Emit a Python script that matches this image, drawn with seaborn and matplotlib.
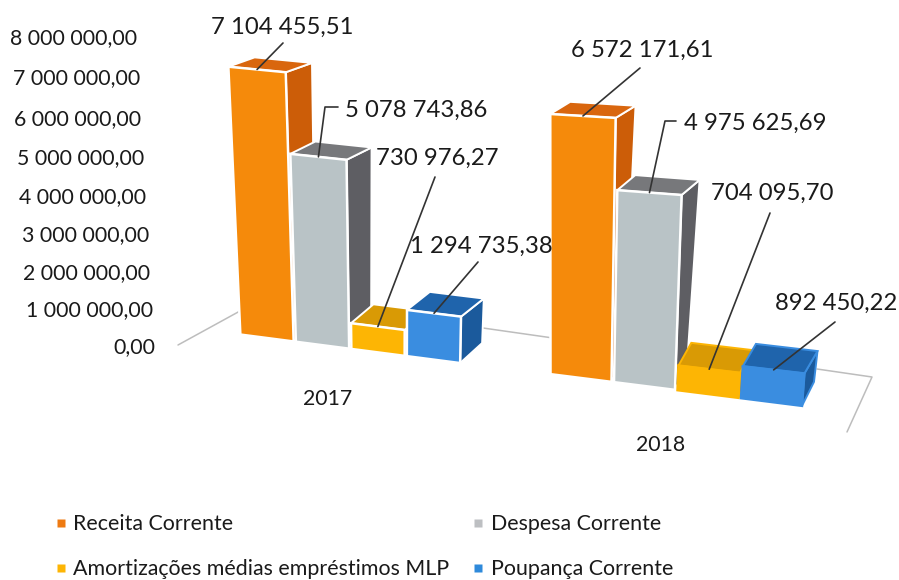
import numpy as np
import pandas as pd
import seaborn as sns
import matplotlib
matplotlib.use("Agg")
import matplotlib.pyplot as plt
from matplotlib.transforms import Transform, Affine2D, IdentityTransform
from matplotlib.patches import Polygon
from matplotlib.lines import Line2D

W, H = 899, 580

indicadores = ["Receita Corrente", "Despesa Corrente",
               "Amortizações médias empréstimos MLP", "Poupança Corrente"]
valores_2017 = [7104455.51, 5078743.86, 730976.27, 1294735.38]
valores_2018 = [6572171.61, 4975625.69, 704095.70, 892450.22]
rotulos_2017 = ["7 104 455,51", "5 078 743,86", "730 976,27", "1 294 735,38"]
rotulos_2018 = ["6 572 171,61", "4 975 625,69", "704 095,70", "892 450,22"]
ticks_valor = [0, 1e6, 2e6, 3e6, 4e6, 5e6, 6e6, 7e6, 8e6]
ticks_texto = ["0,00", "1 000 000,00", "2 000 000,00", "3 000 000,00", "4 000 000,00",
               "5 000 000,00", "6 000 000,00", "7 000 000,00", "8 000 000,00"]

cor_frente = ["#F58A0B", "#B9C3C6", "#FDB504", "#3A8DE0"]
cor_topo = ["#D9660E", "#77787B", "#D99A05", "#1F64AC"]
cor_lado = ["#CC5D08", "#5E5E63", "#C98A04", "#1B5A9C"]

sns.set_theme(style="white")
plt.rcParams["font.family"] = ["Lato", "DejaVu Sans"]
TXT = "#1a1a1a"


class Warp(Transform):
    """Perspective of a year's front plane: (category, value) -> display pixels."""
    input_dims = output_dims = 2
    is_separable = False
    has_inverse = False

    def __init__(self, x0, xs, a2, a3, y0, ys, k0, k1, k2):
        super().__init__()
        self.p = (x0, xs, a2, a3, y0, ys, k0, k1, k2)

    def transform_non_affine(self, pts):
        x0, xs, a2, a3, y0, ys, k0, k1, k2 = self.p
        pts = np.asarray(pts, float)
        x, v = pts[:, 0], pts[:, 1] / 1e6
        return np.column_stack((x0 + xs * x + (a2 + a3 * x) * v,
                                H - (y0 + ys * x - (k0 + k1 * x + k2 * v) * v)))


def px_axes(fig, l, t, r, b):
    return fig.add_axes([l / W, 1 - b / H, (r - l) / W, (b - t) / H])


def desenhar(ax, ano, valores, warp, prof, edge):
    df = pd.DataFrame({"Indicador": indicadores, "Valor": valores})
    sns.barplot(data=df, x="Indicador", y="Valor", hue="Indicador", hue_order=indicadores,
                order=indicadores, palette=cor_frente, width=0.96, saturation=1,
                legend=False, ax=ax)
    bars = sorted(ax.patches, key=lambda p: p.get_x())
    for i, b in enumerate(bars):
        xl, xr, v = b.get_x(), b.get_x() + b.get_width(), b.get_height()
        dv = prof(v / 1e6)
        d0 = prof(0.0)
        fl, fr = warp.transform_non_affine(np.array([[xl, v], [xr, v]]))
        br = warp.transform_non_affine(np.array([[xr, 0.0]]))[0]
        lado = [br, fr, fr + dv, br + d0]
        topo = [fl, fr, fr + dv, fl + dv]
        ec = edge[i]
        ax.add_artist(Polygon(lado, closed=True, fc=cor_lado[i], ec=ec, lw=1.4,
                              transform=IdentityTransform(), zorder=3 + i, clip_on=False))
        ax.add_artist(Polygon(topo, closed=True, fc=cor_topo[i], ec=ec, lw=1.4,
                              transform=IdentityTransform(), zorder=3 + i, clip_on=False))
        b.set_transform(warp)
        b.set_clip_on(False)
        b.set_edgecolor(ec)
        b.set_linewidth(1.8)
        b.set_zorder(3.5 + i)
    ax.set_xlim(-0.5, 3.5)
    ax.set_ylim(0, 8e6)
    ax.set_facecolor("none")
    ax.set_xlabel("")
    ax.set_ylabel("")
    ax.set_xticks([1.5], [ano], fontsize=15.3, color=TXT)
    ax.tick_params(axis="x", length=0, pad=0)
    sns.despine(ax=ax, left=True, bottom=True)
    return bars


def etiqueta(fig, ax, warp, bar, texto, tx, ty, via):
    x = bar.get_x() + bar.get_width() / 2
    fim = warp.transform_non_affine(np.array([[x, bar.get_height()]]))[0]
    xs = [p[0] for p in via] + [fim[0]]
    ys = [H - p[1] for p in via] + [fim[1]]
    ax.add_artist(Line2D(xs, ys, color="#333333", lw=1.2, transform=IdentityTransform(),
                         zorder=20, clip_on=False))
    fig.text(tx / W, 1 - ty / H, texto, fontsize=17.2, color=TXT, ha="center", va="center", zorder=30)


fig = plt.figure(figsize=(W / 100, H / 100), dpi=100, facecolor="white")

# floor lines of the 3D box
for seg in ([(178, 345), (240, 311)], [(483, 328), (560, 339)], [(817, 369), (872, 377), (847, 432)]):
    fig.add_artist(Line2D([p[0] / W for p in seg], [1 - p[1] / H for p in seg],
                          color="#BDBDBD", lw=1.1, zorder=0))

ax1 = px_axes(fig, 155, 37, 509, 346)
ax2 = px_axes(fig, 562, 100, 762, 432)

w17 = Warp(267, 55.5, -1.4, 0.6, 338, 7.2, 34.6, 0.2, 0.45)
w18 = Warp(581, 63.5, 0.3, 0.7, 378, 8.0, 33.3, 0.6, 1.0)
prof17 = lambda v: np.array([22 + 0.6 * v, 20 - 1.5 * v])
prof18 = lambda v: np.array([12 + 1.2 * v, 24 - 1.8 * v])

b17 = desenhar(ax1, "2017", valores_2017, w17, prof17, ["white"] * 4)
b18 = desenhar(ax2, "2018", valores_2018, w18, prof18, ["white", "white", cor_frente[2], cor_frente[3]])

# value axis, with the slant and the perspective squeeze of the reference
ax1.set_yticks(ticks_valor, ticks_texto, fontsize=15.3, color=TXT)
ax1.tick_params(axis="y", length=0, pad=0, left=False)
ax2.set_yticks([])
fim_px = [155, 153, 150, 149, 146.5, 144, 141.5, 140, 137]
alvo_py = [345, 308, 271, 233, 195, 156, 117, 76, 36]
for lab, v, fx, fy in zip(ax1.get_yticklabels(), ticks_valor, fim_px, alvo_py):
    linear = 346 - (346 - 37) * v / 8e6
    lab.set_transform(lab.get_transform() + Affine2D().translate(fx - 155, linear - fy))

ax1.get_xticklabels()[0].set_transform(ax1.get_xticklabels()[0].get_transform()
                                       + Affine2D().translate(-4, -(398 - 346 - 9)))
ax2.get_xticklabels()[0].set_transform(ax2.get_xticklabels()[0].get_transform()
                                       + Affine2D().translate(-1, -3))

etiqueta(fig, ax1, w17, b17[0], rotulos_2017[0], 282, 27, [(283, 43)])
etiqueta(fig, ax1, w17, b17[1], rotulos_2017[1], 416, 110, [(338, 107), (325, 107)])
etiqueta(fig, ax1, w17, b17[2], rotulos_2017[2], 437, 158, [(435, 177)])
etiqueta(fig, ax1, w17, b17[3], rotulos_2017[3], 481, 246, [(478, 262)])
etiqueta(fig, ax2, w18, b18[0], rotulos_2018[0], 642, 50, [(640, 68)])
etiqueta(fig, ax2, w18, b18[1], rotulos_2018[1], 755, 123, [(676, 121), (665, 121)])
etiqueta(fig, ax2, w18, b18[2], rotulos_2018[2], 772, 193, [(770, 213)])
etiqueta(fig, ax2, w18, b18[3], rotulos_2018[3], 836, 303, [(835, 322)])

handles = [Line2D([], [], ls="none", marker="s", ms=5.5, mfc=c, mec="none", label=n)
           for c, n in zip(["#EE7A12", "#BDBFC2", "#FDB504", "#2F8ADB"], indicadores)]
order = [0, 2, 1, 3]
fig.legend([handles[i] for i in order], [indicadores[i] for i in order], ncols=2,
           loc="upper left", bbox_to_anchor=(52 / W, 1 - 514 / H), bbox_transform=fig.transFigure,
           frameon=False, fontsize=15.4, labelcolor=TXT, borderpad=0, borderaxespad=0,
           handlelength=0.8, handletextpad=0.2, columnspacing=0.95, labelspacing=1.17)

fig.savefig("out.png", dpi=100, facecolor="white")
